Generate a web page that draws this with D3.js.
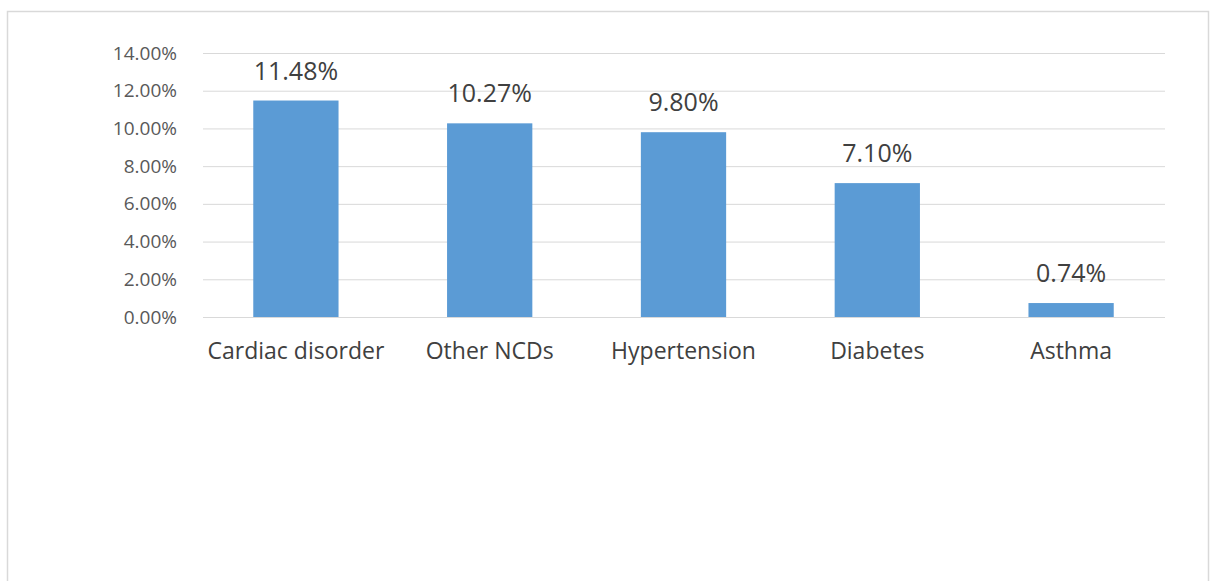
<!DOCTYPE html>
<html>
<head>
<meta charset="utf-8">
<script src="https://cdn.jsdelivr.net/npm/d3@7"></script>
<style>
  body { margin: 0; background: #fff; }
  svg { display: block; font-family: "Open Sans", "Noto Sans", sans-serif; }
</style>
</head>
<body>
<div id="chart"></div>
<script>
// Chart data
const categories = ['Cardiac disorder', 'Other NCDs', 'Hypertension', 'Diabetes', 'Asthma'];
const values = [11.48, 10.27, 9.80, 7.10, 0.74];
const yTicks = [0, 2, 4, 6, 8, 10, 12, 14];

const W = 1215;
const H = 581;

const svg = d3.select('#chart')
  .append('svg')
  .attr('width', W)
  .attr('height', H);

// faint frame of the original figure
svg.append('rect')
  .attr('x', 7.5)
  .attr('y', 11.5)
  .attr('width', 1201)
  .attr('height', 575)
  .attr('fill', 'none')
  .attr('stroke', '#d9d9d9')
  .attr('stroke-width', 1.5);

const x = d3.scaleBand()
  .domain(categories)
  .range([199, 1168])
  .paddingInner(0.56)
  .paddingOuter(0.28);

const y = d3.scaleLinear()
  .domain([0, 14])
  .range([317, 53]);

// gridlines
svg.append('g')
  .selectAll('line')
  .data(yTicks)
  .join('line')
  .attr('x1', 203)
  .attr('x2', 1165)
  .attr('y1', d => y(d) + 0.5)
  .attr('y2', d => y(d) + 0.5)
  .attr('stroke', '#d9d9d9')
  .attr('stroke-width', 1);

// y axis labels
const yAxis = d3.axisLeft(y)
  .tickValues(yTicks)
  .tickFormat(d => d.toFixed(2) + '%')
  .tickSize(0)
  .tickPadding(0);

svg.append('g')
  .attr('transform', 'translate(177, 0)')
  .call(yAxis)
  .call(g => g.select('.domain').remove())
  .call(g => g.selectAll('text')
    .attr('fill', '#595959')
    .style('font-size', '19px')
    .style('font-family', '"Open Sans", sans-serif'));

// bars
svg.append('g')
  .selectAll('rect')
  .data(values)
  .join('rect')
  .attr('x', (d, i) => x(categories[i]))
  .attr('y', d => y(d))
  .attr('width', x.bandwidth())
  .attr('height', d => y(0) - y(d))
  .attr('fill', '#5b9bd5');

// value labels
svg.append('g')
  .selectAll('text')
  .data(values)
  .join('text')
  .attr('x', (d, i) => x(categories[i]) + x.bandwidth() / 2)
  .attr('y', d => y(d) - 21)
  .attr('text-anchor', 'middle')
  .attr('fill', '#404040')
  .style('font-size', '25px')
  .text(d => d.toFixed(2) + '%');

// category labels
const xAxis = d3.axisBottom(x).tickSize(0).tickPadding(0);

svg.append('g')
  .attr('transform', 'translate(0, 343)')
  .call(xAxis)
  .call(g => g.select('.domain').remove())
  .call(g => g.selectAll('text')
    .attr('fill', '#404040')
    .style('font-size', '23px')
    .style('font-family', '"Open Sans", sans-serif'));
</script>
</body>
</html>
